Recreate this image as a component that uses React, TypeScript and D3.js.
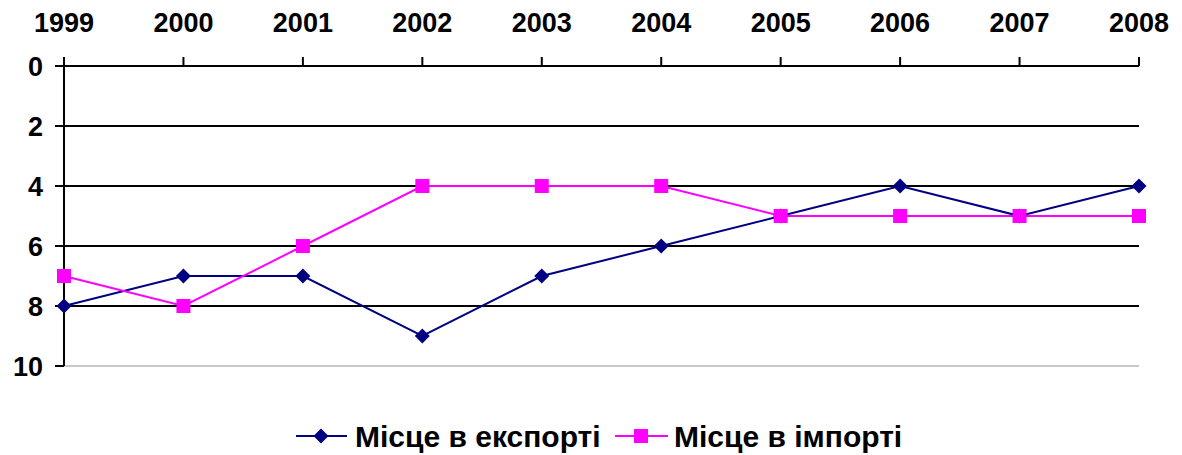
import { useEffect, useRef } from 'react'
import * as d3 from 'd3'

const years = ['1999', '2000', '2001', '2002', '2003', '2004', '2005', '2006', '2007', '2008']
const exportRank = [8, 7, 7, 9, 7, 6, 5, 4, 5, 4]
const importRank = [7, 8, 6, 4, 4, 4, 5, 5, 5, 5]
const yTicks = [0, 2, 4, 6, 8, 10]

const W = 1182
const H = 455
const FONT = 'Liberation Sans, Arial, sans-serif'

export default function App() {
  const svgRef = useRef<SVGSVGElement>(null)

  useEffect(() => {
    if (!svgRef.current) return
    const svg = d3.select(svgRef.current)
    svg.selectAll('*').remove()

    const x = d3.scalePoint<string>().domain(years).range([64, 1139])
    const y = d3.scaleLinear().domain([0, 10]).range([66, 366])

    // gridlines
    yTicks.forEach(t => {
      svg.append('line')
        .attr('x1', 64).attr('x2', 1139)
        .attr('y1', y(t)).attr('y2', y(t))
        .attr('stroke', t === 10 ? '#c8c8c8' : '#000')
        .attr('stroke-width', 2)
    })

    // left axis
    svg.append('line')
      .attr('x1', 64).attr('x2', 64)
      .attr('y1', y(0)).attr('y2', y(10))
      .attr('stroke', '#000').attr('stroke-width', 2)
    yTicks.forEach(t => {
      svg.append('line')
        .attr('x1', 55).attr('x2', 64)
        .attr('y1', y(t)).attr('y2', y(t))
        .attr('stroke', '#000').attr('stroke-width', 2)
      svg.append('text')
        .attr('x', 43).attr('y', y(t) + 10)
        .attr('text-anchor', 'end')
        .attr('font-family', FONT).attr('font-weight', 'bold').attr('font-size', 27)
        .text(t)
    })

    // top axis ticks and labels
    years.forEach(yr => {
      svg.append('line')
        .attr('x1', x(yr)!).attr('x2', x(yr)!)
        .attr('y1', y(0) - 9).attr('y2', y(0))
        .attr('stroke', '#000').attr('stroke-width', 2)
      svg.append('text')
        .attr('x', x(yr)!).attr('y', 32)
        .attr('text-anchor', 'middle')
        .attr('font-family', FONT).attr('font-weight', 'bold').attr('font-size', 27)
        .text(yr)
    })

    const line = d3.line<number>().x((_, i) => x(years[i])!).y(d => y(d))

    svg.append('path').datum(exportRank).attr('d', line)
      .attr('fill', 'none').attr('stroke', '#000080').attr('stroke-width', 2)
    svg.append('path').datum(importRank).attr('d', line)
      .attr('fill', 'none').attr('stroke', '#ff00ff').attr('stroke-width', 2)

    const diamond = (cx: number, cy: number, r: number) =>
      `M${cx},${cy - r}L${cx + r},${cy}L${cx},${cy + r}L${cx - r},${cy}Z`

    svg.selectAll('.ex').data(exportRank).enter().append('path')
      .attr('d', (d, i) => diamond(x(years[i])!, y(d), 7.5))
      .attr('fill', '#000080')
    svg.selectAll('.im').data(importRank).enter().append('rect')
      .attr('x', (_, i) => x(years[i])! - 7)
      .attr('y', d => y(d) - 7)
      .attr('width', 14).attr('height', 14)
      .attr('fill', '#ff00ff')

    // legend
    const ly = 436
    const lg = svg.append('g')
    lg.append('line').attr('x1', 296).attr('x2', 347).attr('y1', ly).attr('y2', ly)
      .attr('stroke', '#000080').attr('stroke-width', 2)
    lg.append('path').attr('d', diamond(321, ly, 7.5)).attr('fill', '#000080')
    lg.append('text').attr('x', 355).attr('y', 447)
      .attr('font-family', FONT)
      .attr('font-weight', 'bold').attr('font-size', 30)
      .text('Місце в експорті')
    lg.append('line').attr('x1', 615).attr('x2', 668).attr('y1', ly).attr('y2', ly)
      .attr('stroke', '#ff00ff').attr('stroke-width', 2)
    lg.append('rect').attr('x', 634).attr('y', ly - 7).attr('width', 14).attr('height', 14)
      .attr('fill', '#ff00ff')
    lg.append('text').attr('x', 674).attr('y', 447)
      .attr('font-family', FONT)
      .attr('font-weight', 'bold').attr('font-size', 30)
      .text('Місце в імпорті')
  }, [])

  return (
    <svg ref={svgRef} width={W} height={H}
      style={{ position: 'absolute', left: 0, top: 0, background: '#fff' }} />
  )
}
